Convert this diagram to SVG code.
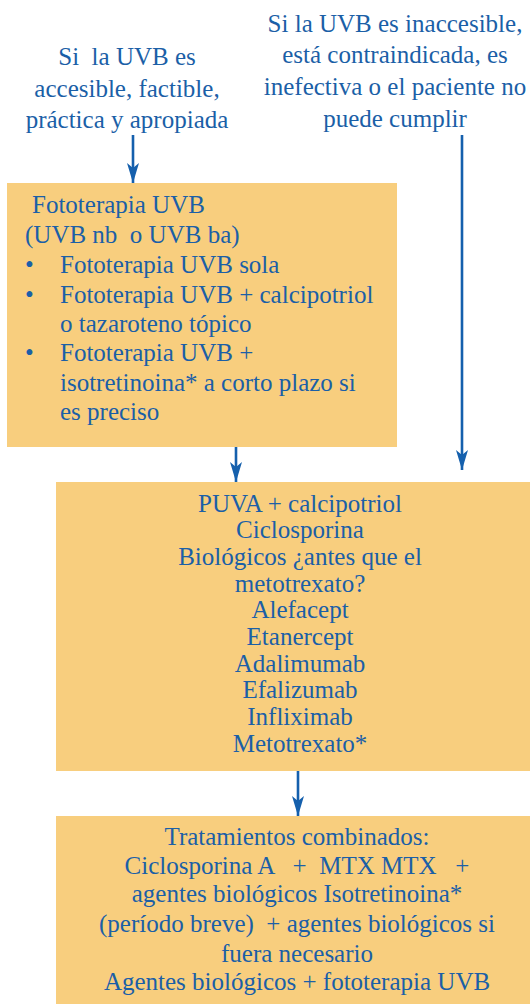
<svg xmlns="http://www.w3.org/2000/svg" width="530" height="1004" viewBox="0 0 530 1004">
<style>
  .box { fill: #f8ce7e; }
  text { font-family: "Liberation Serif", "Times New Roman", serif; font-size: 25px; fill: #1b5fa7; white-space: pre; }
  .c { text-anchor: middle; }
  .conn { stroke: #1560ad; stroke-width: 2.6; fill: none; }
</style>
<defs>
  <marker id="ah" viewBox="0 0 20 14" markerWidth="20" markerHeight="14" refX="20" refY="7" orient="auto" markerUnits="userSpaceOnUse">
    <path d="M0,1 L20,7 L0,13 L5,7 Z" fill="#1560ad"/>
  </marker>
</defs>
<rect width="530" height="1004" fill="#ffffff"/>

<g id="label-left">
  <text class="c" x="127" y="65">Si  la UVB es</text>
  <text class="c" x="127" y="97">accesible, factible,</text>
  <text class="c" x="127" y="128">práctica y apropiada</text>
</g>

<g id="label-right">
  <text class="c" x="395" y="32">Si la UVB es inaccesible,</text>
  <text class="c" x="395" y="63">está contraindicada, es</text>
  <text class="c" x="395" y="95">inefectiva o el paciente no</text>
  <text class="c" x="395" y="127">puede cumplir</text>
</g>

<g id="box-uvb">
  <rect class="box" x="7" y="183" width="390" height="264"/>
  <text x="32" y="213">Fototerapia UVB</text>
  <text x="25" y="243">(UVB nb  o UVB ba)</text>
  <text x="25" y="273">•</text>
  <text x="60" y="273">Fototerapia UVB sola</text>
  <text x="25" y="303">•</text>
  <text x="60" y="303">Fototerapia UVB + calcipotriol</text>
  <text x="60" y="332">o tazaroteno tópico</text>
  <text x="25" y="361">•</text>
  <text x="60" y="361">Fototerapia UVB +</text>
  <text x="60" y="391">isotretinoina* a corto plazo si</text>
  <text x="60" y="420">es preciso</text>
</g>

<g id="box-sistemicos">
  <rect class="box" x="56" y="482" width="474" height="289"/>
  <text class="c" x="300" y="512">PUVA + calcipotriol</text>
  <text class="c" x="300" y="538">Ciclosporina</text>
  <text class="c" x="300" y="565">Biológicos ¿antes que el</text>
  <text class="c" x="300" y="592">metotrexato?</text>
  <text class="c" x="300" y="618">Alefacept</text>
  <text class="c" x="300" y="645">Etanercept</text>
  <text class="c" x="300" y="672">Adalimumab</text>
  <text class="c" x="300" y="698">Efalizumab</text>
  <text class="c" x="300" y="725">Infliximab</text>
  <text class="c" x="300" y="752">Metotrexato*</text>
</g>

<g id="box-combinados">
  <rect class="box" x="56" y="816" width="474" height="188"/>
  <text class="c" x="297" y="845">Tratamientos combinados:</text>
  <text class="c" x="297" y="874">Ciclosporina A   +  MTX MTX   +</text>
  <text class="c" x="297" y="902">agentes biológicos Isotretinoina*</text>
  <text class="c" x="297" y="932">(período breve)  + agentes biológicos si</text>
  <text class="c" x="297" y="962">fuera necesario</text>
  <text class="c" x="297" y="990">Agentes biológicos + fototerapia UVB</text>
</g>

<g id="connectors">
  <line class="conn" x1="133" y1="135" x2="133" y2="183" marker-end="url(#ah)"/>
  <line class="conn" x1="462" y1="135" x2="462" y2="470" marker-end="url(#ah)"/>
  <line class="conn" x1="236" y1="447" x2="236" y2="482" marker-end="url(#ah)"/>
  <line class="conn" x1="298" y1="771" x2="298" y2="816" marker-end="url(#ah)"/>
</g>
</svg>
